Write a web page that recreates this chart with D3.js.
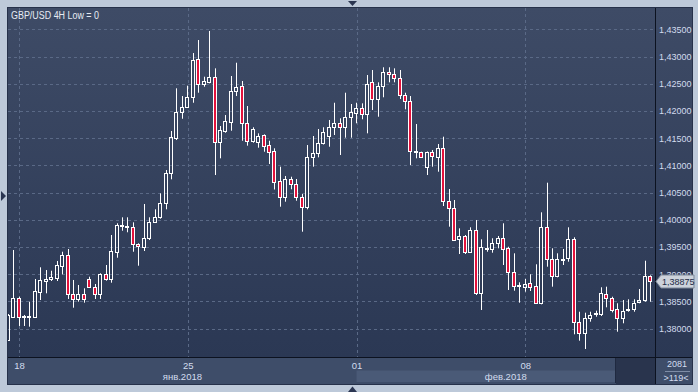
<!DOCTYPE html>
<html>
<head>
<meta charset="utf-8">
<script src="https://cdn.jsdelivr.net/npm/d3@7"></script>
<style>
  body { margin: 0; background: #bdc9d9; }
  svg { display: block; font-family: "Liberation Sans", Arial, sans-serif; }
</style>
</head>
<body>
<div id="graphic"></div>
<script>
// GBP/USD 4H candles (one value per bar)
var opens = [
  1.37792, 1.38220, 1.38558, 1.38219, 1.38219, 1.38220, 1.38680, 1.38882, 1.38907, 1.38937,
  1.39157, 1.39354, 1.38632, 1.38540, 1.38632, 1.38913, 1.38772, 1.38632, 1.38999, 1.38918,
  1.39414, 1.39881, 1.39868, 1.39863, 1.39550, 1.39506, 1.39661, 1.39966, 1.40057, 1.40303,
  1.40854, 1.41497, 1.41975, 1.42078, 1.42251, 1.42949, 1.42489, 1.42537, 1.42618, 1.41424,
  1.41637, 1.41802, 1.42366, 1.42458, 1.41773, 1.41453, 1.41435, 1.41553, 1.41369, 1.41264,
  1.40713, 1.40414, 1.40750, 1.40652, 1.40414, 1.40241, 1.41148, 1.41222, 1.41406, 1.41545,
  1.41711, 1.41773, 1.41711, 1.41883, 1.41968, 1.42049, 1.41938, 1.42537, 1.42214, 1.42458,
  1.42721, 1.42679, 1.42600, 1.42293, 1.42183, 1.41246, 1.41240, 1.40965, 1.41240, 1.41160,
  1.41314, 1.40351, 1.40212, 1.39642, 1.39703, 1.39414, 1.39813, 1.38661, 1.39484, 1.39470,
  1.39569, 1.39661, 1.39477, 1.39047, 1.38786, 1.38772, 1.38834, 1.38784, 1.38467, 1.39874,
  1.39275, 1.38974, 1.39270, 1.39293, 1.39648, 1.38129, 1.37916, 1.38191, 1.38279, 1.38276,
  1.38637, 1.38558, 1.38356, 1.38191, 1.38353, 1.38356, 1.38485, 1.38527, 1.38968
];
var highs = [
  1.38270, 1.39446, 1.38588, 1.38252, 1.38496, 1.38913, 1.39128, 1.39078, 1.39065, 1.39244,
  1.39414, 1.39464, 1.38895, 1.38803, 1.38742, 1.38955, 1.38821, 1.39018, 1.39170, 1.39721,
  1.39936, 1.40046, 1.40046, 1.39954, 1.39569, 1.40291, 1.40046, 1.40193, 1.40487, 1.40915,
  1.41632, 1.42416, 1.42274, 1.42464, 1.43064, 1.43303, 1.42629, 1.43469, 1.42783, 1.41723,
  1.41925, 1.42642, 1.42886, 1.42550, 1.42091, 1.41700, 1.41589, 1.41570, 1.41453, 1.41314,
  1.40976, 1.40805, 1.40792, 1.40750, 1.40474, 1.41374, 1.41540, 1.41668, 1.41700, 1.41834,
  1.42151, 1.41865, 1.42335, 1.42128, 1.42151, 1.42140, 1.42660, 1.42752, 1.42526, 1.42802,
  1.42802, 1.42783, 1.42752, 1.42335, 1.42274, 1.41760, 1.41251, 1.41255, 1.41283, 1.41393,
  1.41527, 1.40566, 1.40364, 1.39844, 1.39721, 1.39863, 1.39997, 1.39642, 1.39813, 1.39661,
  1.39703, 1.39936, 1.39506, 1.39385, 1.38852, 1.38913, 1.38999, 1.39183, 1.40138, 1.40682,
  1.39477, 1.39385, 1.39464, 1.39863, 1.39679, 1.38312, 1.38294, 1.38312, 1.38331, 1.38761,
  1.38772, 1.38588, 1.38467, 1.38527, 1.38540, 1.38540, 1.38729, 1.39249, 1.38980
];
var lows = [
  1.37774, 1.38202, 1.38050, 1.38050, 1.38037, 1.38215, 1.38527, 1.38650, 1.38876, 1.38876,
  1.38999, 1.38546, 1.38386, 1.38496, 1.38478, 1.38761, 1.38546, 1.38546, 1.38882, 1.38845,
  1.39304, 1.39800, 1.39771, 1.39414, 1.39157, 1.39427, 1.39629, 1.39961, 1.40021, 1.40193,
  1.40744, 1.41466, 1.41857, 1.42060, 1.42151, 1.42335, 1.42445, 1.42508, 1.40823, 1.41130,
  1.41600, 1.41637, 1.42274, 1.41453, 1.41362, 1.41417, 1.41325, 1.41251, 1.41025, 1.40557,
  1.40241, 1.40333, 1.40561, 1.40351, 1.39782, 1.40193, 1.40976, 1.41148, 1.41384, 1.41343,
  1.41558, 1.41191, 1.41509, 1.41509, 1.41773, 1.41847, 1.41589, 1.42017, 1.41894, 1.42251,
  1.42526, 1.42526, 1.42219, 1.42030, 1.41007, 1.41130, 1.41136, 1.40823, 1.40976, 1.40884,
  1.40254, 1.39874, 1.39611, 1.39372, 1.39372, 1.39400, 1.38619, 1.38344, 1.39414, 1.39396,
  1.39477, 1.39170, 1.38711, 1.38698, 1.38478, 1.38680, 1.38693, 1.38457, 1.38448, 1.39139,
  1.38772, 1.38944, 1.39170, 1.39231, 1.37897, 1.37780, 1.37627, 1.38129, 1.38220, 1.38233,
  1.38393, 1.38300, 1.37945, 1.38099, 1.38312, 1.38312, 1.38467, 1.38496, 1.38496
];
var closes = [
  1.38252, 1.38558, 1.38209, 1.38230, 1.38230, 1.38693, 1.38895, 1.38913, 1.38950, 1.39170,
  1.39354, 1.38632, 1.38540, 1.38632, 1.38540, 1.38772, 1.38632, 1.38999, 1.38918, 1.39427,
  1.39905, 1.39899, 1.39881, 1.39550, 1.39514, 1.39661, 1.39969, 1.40057, 1.40303, 1.40854,
  1.41516, 1.41975, 1.42078, 1.42251, 1.42930, 1.42489, 1.42550, 1.42618, 1.41424, 1.41650,
  1.41815, 1.42366, 1.42434, 1.41773, 1.41453, 1.41668, 1.41540, 1.41362, 1.41251, 1.40704,
  1.40414, 1.40750, 1.40652, 1.40414, 1.40241, 1.41148, 1.41222, 1.41406, 1.41608, 1.41700,
  1.41773, 1.41711, 1.41883, 1.41975, 1.42049, 1.41938, 1.42495, 1.42214, 1.42458, 1.42721,
  1.42679, 1.42600, 1.42293, 1.42183, 1.41264, 1.41257, 1.41148, 1.41240, 1.41178, 1.41314,
  1.40351, 1.40212, 1.39629, 1.39703, 1.39414, 1.39813, 1.38661, 1.39495, 1.39491, 1.39569,
  1.39661, 1.39470, 1.39047, 1.38790, 1.38794, 1.38816, 1.38772, 1.38467, 1.39863, 1.39275,
  1.38974, 1.39275, 1.39280, 1.39642, 1.38129, 1.37916, 1.38191, 1.38252, 1.38287, 1.38650,
  1.38558, 1.38344, 1.38191, 1.38331, 1.38360, 1.38478, 1.38527, 1.38968, 1.38875
];

// axis labels
var yTicks = [1.380, 1.385, 1.390, 1.395, 1.400, 1.405, 1.410, 1.415, 1.420, 1.425, 1.430, 1.435];
var weekIdx = [2, 33, 64, 95];
var weekLabels = ["18", "25", "01", "08"];
var monthLabels = ["янв.2018", "фев.2018"];
var monthStart = [0, 64];
var lastPrice = 1.38875;


function drawChart(){
    var w = 698, h = 392;
    var left = 8, right = 655, top = 8, bottom = 357, frameR = 692, frameB = 384;

    var svg = d3.select("#graphic")
        .append("svg")
        .attr("width", w)
        .attr("height", h);

    var defs = svg.append("defs");
    var grad = defs.append("linearGradient")
        .attr("id", "bg")
        .attr("x1", 0).attr("y1", 0).attr("x2", 0).attr("y2", 1);
    grad.append("stop").attr("offset", "0%").attr("stop-color", "#3e4b66");
    grad.append("stop").attr("offset", "100%").attr("stop-color", "#2b3854");
    defs.append("clipPath").attr("id", "plotclip")
        .append("rect")
        .attr("x", left).attr("y", top)
        .attr("width", right - left).attr("height", bottom - top);

    // outer frame + panels
    svg.append("rect").attr("width", w).attr("height", h).attr("fill", "#bdc9d9");
    svg.append("rect")
        .attr("x", left).attr("y", top)
        .attr("width", frameR - left).attr("height", bottom - top)
        .attr("fill", "url(#bg)");
    svg.append("rect")
        .attr("x", left).attr("y", bottom)
        .attr("width", frameR - left).attr("height", frameB - bottom)
        .attr("fill", "#3e4d69");

    var xScale = d3.scaleLinear()
        .domain([0, 118])
        .range([8.2, 650.5]);
    var yScale = d3.scaleLinear()
        .domain([1.38, 1.435])
        .range([328.7, 29.3]);

    // scroll track and thumb in the date strip
    svg.append("rect")
        .attr("x", xScale(monthStart[1])).attr("y", 370.5)
        .attr("width", 615 - xScale(monthStart[1])).attr("height", 11.5)
        .attr("fill", "#4a5a77");
    svg.append("rect")
        .attr("x", 616).attr("y", bottom)
        .attr("width", right - 616).attr("height", frameB - bottom)
        .attr("fill", "#29344d");
    svg.append("line")
        .attr("x1", 615.5).attr("x2", 615.5)
        .attr("y1", bottom + 1).attr("y2", frameB - 1)
        .attr("stroke", "#1f2940");

    // grid
    var gy = svg.append("g")
        .attr("transform", "translate(" + left + ",0)")
        .call(d3.axisLeft(yScale).tickValues(yTicks).tickSize(-(right - left)).tickFormat(""));
    gy.select(".domain").remove();
    gy.selectAll("line")
        .attr("stroke", "#5a6986")
        .attr("stroke-dasharray", "3,3")
        .attr("shape-rendering", "crispEdges");

    var gx = svg.append("g")
        .attr("transform", "translate(0," + top + ")")
        .call(d3.axisBottom(xScale).tickValues(weekIdx).tickSize(bottom - top).tickFormat(""));
    gx.select(".domain").remove();
    gx.selectAll("line")
        .attr("stroke", "#5a6986")
        .attr("stroke-dasharray", "3,3")
        .attr("shape-rendering", "crispEdges");

    // candles
    var bars = d3.range(opens.length);
    var cg = svg.append("g").attr("clip-path", "url(#plotclip)");
    var candle = cg.selectAll("g.candle")
        .data(bars)
        .enter()
        .append("g")
        .attr("class", "candle");

    function cx(i){ return Math.floor(xScale(i)) + 0.5; }
    function bodyTop(i){ return Math.round(yScale(Math.max(opens[i], closes[i]))) + 0.5; }
    function bodyBot(i){
        var t = bodyTop(i);
        var b = Math.round(yScale(Math.min(opens[i], closes[i]))) + 0.5;
        return (b - t < 1) ? t + 1 : b;
    }

    candle.append("line")
        .attr("x1", cx).attr("x2", cx)
        .attr("y1", function(i){ return yScale(highs[i]); })
        .attr("y2", bodyTop)
        .attr("stroke", "#ffffff");
    candle.append("line")
        .attr("x1", cx).attr("x2", cx)
        .attr("y1", bodyBot)
        .attr("y2", function(i){ return yScale(lows[i]); })
        .attr("stroke", "#ffffff");
    candle.append("rect")
        .attr("x", function(i){ return cx(i) - 2; })
        .attr("width", 3)
        .attr("y", bodyTop)
        .attr("height", function(i){ return bodyBot(i) - bodyTop(i); })
        .attr("fill", function(i){
            if(closes[i] < opens[i]){
                return "#e3123c";
            } else {
                return "none";
            }
        })
        .attr("stroke", "#ffffff")
        .attr("stroke-width", 1);

    // separators
    svg.append("line")
        .attr("x1", right + 0.5).attr("x2", right + 0.5)
        .attr("y1", top).attr("y2", frameB)
        .attr("stroke", "#0c1220");
    svg.append("line")
        .attr("x1", left).attr("x2", frameR)
        .attr("y1", bottom + 0.5).attr("y2", bottom + 0.5)
        .attr("stroke", "#0c1220");
    svg.append("rect")
        .attr("x", left - 0.5).attr("y", top - 0.5)
        .attr("width", frameR - left + 1).attr("height", frameB - top + 1)
        .attr("fill", "none")
        .attr("stroke", "#26314a");

    // price axis
    var fmt = d3.format(".5f");
    var ay = svg.append("g")
        .attr("transform", "translate(" + right + ",0)")
        .call(d3.axisRight(yScale).tickValues(yTicks).tickSize(0).tickPadding(4)
            .tickFormat(function(d){ return fmt(d).replace(".", ","); }));
    ay.select(".domain").remove();
    ay.selectAll("text")
        .attr("fill", "#d2dcee")
        .style("font-size", "9px")
        .style("font-family", "'Liberation Sans', Arial, sans-serif");

    // date axis
    var ax = svg.append("g")
        .attr("transform", "translate(0," + bottom + ")")
        .call(d3.axisBottom(xScale).tickValues(weekIdx).tickSize(0)
            .tickFormat(function(d, i){ return weekLabels[i]; }));
    ax.select(".domain").remove();
    ax.selectAll("text")
        .attr("y", 11.5)
        .attr("dy", 0)
        .attr("fill", "#d2dcee")
        .style("font-size", "9.5px")
        .style("font-family", "'Liberation Sans', Arial, sans-serif");

    var monthEnd = [xScale(monthStart[1]), right];
    svg.selectAll("text.month")
        .data(monthLabels)
        .enter()
        .append("text")
        .attr("class", "month")
        .attr("x", function(d, i){
            var a = Math.max(left, xScale(monthStart[i]));
            return (a + monthEnd[i]) / 2;
        })
        .attr("y", 380)
        .attr("text-anchor", "middle")
        .attr("fill", "#d2dcee")
        .style("font-size", "9.5px")
        .text(function(d){ return d; });

    // bottom right counter
    svg.append("text")
        .attr("x", 677).attr("y", 367)
        .attr("text-anchor", "middle")
        .attr("fill", "#d2dcee")
        .style("font-size", "9px")
        .text("2081");
    svg.append("line")
        .attr("x1", 665).attr("x2", 690)
        .attr("y1", 371.5).attr("y2", 371.5)
        .attr("stroke", "#7e8ca6");
    svg.append("text")
        .attr("x", 676).attr("y", 381)
        .attr("text-anchor", "middle")
        .attr("fill", "#d2dcee")
        .style("font-size", "9px")
        .text(">119<");

    // last price marker
    var ly = Math.round(yScale(lastPrice)) + 0.5;
    svg.append("path")
        .attr("d", "M656," + ly + " L661," + (ly - 6.5) + " L694," + (ly - 6.5)
            + " L694," + (ly + 6.5) + " L661," + (ly + 6.5) + " Z")
        .attr("fill", "#ccd2db")
        .attr("stroke", "#7d8898");
    svg.append("text")
        .attr("x", 662).attr("y", ly)
        .attr("dy", "0.35em")
        .attr("fill", "#1d2b45")
        .style("font-size", "9px")
        .text(fmt(lastPrice).replace(".", ","));

    // title
    svg.append("text")
        .attr("x", 11).attr("y", 18.5)
        .attr("fill", "#e6ebf3")
        .attr("textLength", 88)
        .attr("lengthAdjust", "spacingAndGlyphs")
        .style("font-size", "10px")
        .text("GBP/USD 4H Low = 0");

    // little scroll arrows on the outer frame
    svg.append("path").attr("d", "M348,1 L357,1 L352.5,6 Z").attr("fill", "#2b3652");
    svg.append("path").attr("d", "M348,392 L357,392 L352.5,386.5 Z").attr("fill", "#2b3652");
    svg.append("path").attr("d", "M1,191 L1,201 L6,196 Z").attr("fill", "#2b3652");
}

drawChart();
</script>
</body>
</html>
